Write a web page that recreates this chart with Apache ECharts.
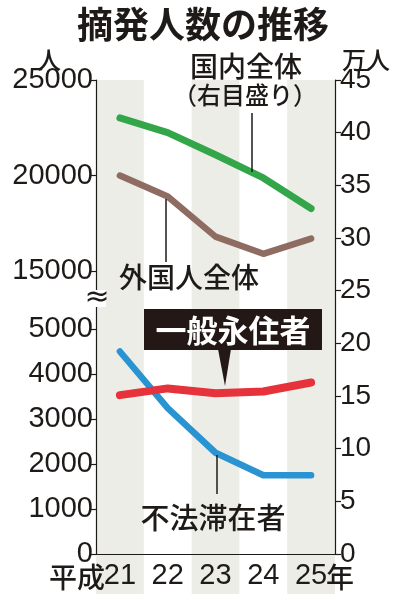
<!DOCTYPE html>
<html>
<head>
<meta charset="utf-8">
<script src="https://cdn.jsdelivr.net/npm/echarts@6/dist/echarts.min.js"></script>
<style>html,body{margin:0;padding:0;background:#fff}#c{width:400px;height:600px}</style>
</head>
<body>
<div id="c"></div>
<script>
// ---- data ----
const categories = ['21', '22', '23', '24', '25'];
const domesticTotal = [41.4, 40.0, 37.9, 35.7, 32.8];          // 万人 (right axis)
const foreignTotal = [20000, 18900, 16800, 15900, 16700];      // 人 (left, upper)
const permanentResidents = [3530, 3680, 3570, 3610, 3810];     // 人 (left, lower)
const illegalStayers = [4500, 3240, 2250, 1750, 1750];         // 人 (left, lower)
const stripeFlags = [1, 0, 1, 0, 1];
const rightTicks = [0, 45, 5];
const upperTicks = [15000, 25000, 5000];
const lowerTicks = [0, 5000, 1000];

const FONT = "'Liberation Sans','Noto Sans CJK JP',sans-serif";
const JFONT = "'Noto Sans CJK JP',sans-serif";
const INK = '#1e1a18';
const chart = echarts.init(document.getElementById('c'), null, {renderer: 'canvas'});

const gridLR = {left: 96, right: 65};
const plain = v => String(v);
const axisLabelY = {fontFamily: FONT, fontSize: 28, color: INK, formatter: plain};
const axisLabelL = {fontFamily: FONT, fontSize: 29, color: INK, formatter: plain};

const option = {
  backgroundColor: '#fff',
  animation: false,
  grid: [
    Object.assign({top: 80, bottom: 46}, gridLR),          // 0 full
    Object.assign({top: 80, height: 191}, gridLR),         // 1 upper
    Object.assign({top: 329, bottom: 46}, gridLR),         // 2 lower
    Object.assign({top: 80, bottom: 6}, gridLR)            // 3 background stripes
  ],
  xAxis: [
    {type: 'category', data: categories, gridIndex: 0, boundaryGap: true,
     axisLine: {show: true, lineStyle: {color: INK, width: 1.2}}, axisTick: {show: false},
     axisLabel: {fontFamily: FONT, fontSize: 29, color: INK, margin: 7}, splitLine: {show: false}},
    {type: 'category', data: categories, gridIndex: 1, show: false},
    {type: 'category', data: categories, gridIndex: 2, show: false},
    {type: 'category', data: categories, gridIndex: 3, show: false}
  ],
  yAxis: [
    {type: 'value', gridIndex: 0, position: 'left', min: rightTicks[0], max: rightTicks[1],
     axisLine: {show: true, lineStyle: {color: INK, width: 1.2}}, axisTick: {show: false},
     axisLabel: {show: false}, splitLine: {show: false}},
    {type: 'value', gridIndex: 0, position: 'right', min: rightTicks[0], max: rightTicks[1], interval: rightTicks[2],
     axisLine: {show: true, lineStyle: {color: INK, width: 1.2}},
     axisTick: {show: true, length: 6, lineStyle: {color: INK, width: 1.2}},
     axisLabel: Object.assign({}, axisLabelY, {margin: 5}), splitLine: {show: false}},
    {type: 'value', gridIndex: 1, position: 'left', min: upperTicks[0], max: upperTicks[1], interval: upperTicks[2],
     axisLine: {show: false},
     axisTick: {show: true, length: 6, lineStyle: {color: INK, width: 1.2}},
     axisLabel: Object.assign({}, axisLabelL, {margin: 3}), splitLine: {show: false}},
    {type: 'value', gridIndex: 2, position: 'left', min: lowerTicks[0], max: lowerTicks[1], interval: lowerTicks[2],
     axisLine: {show: false},
     axisTick: {show: true, length: 6, lineStyle: {color: INK, width: 1.2}},
     axisLabel: Object.assign({}, axisLabelL, {margin: 3}), splitLine: {show: false}},
    {type: 'value', gridIndex: 3, min: 0, max: 1, show: false}
  ],
  series: [
    {type: 'bar', xAxisIndex: 3, yAxisIndex: 4, data: stripeFlags, barWidth: '100%', barCategoryGap: 0,
     itemStyle: {color: '#ededE7'}, silent: true, z: -1},
    {type: 'line', name: '国内全体', xAxisIndex: 0, yAxisIndex: 1, data: domesticTotal, symbol: 'none',
     lineStyle: {color: '#33a64a', width: 7, cap: 'round', join: 'round'}, z: 3},
    {type: 'line', name: '外国人全体', xAxisIndex: 1, yAxisIndex: 2, data: foreignTotal, symbol: 'none',
     lineStyle: {color: '#8e6c62', width: 6.5, cap: 'round', join: 'round'}, z: 3},
    {type: 'line', name: '不法滞在者', xAxisIndex: 2, yAxisIndex: 3, data: illegalStayers, symbol: 'none',
     lineStyle: {color: '#2a94d3', width: 6.5, cap: 'round', join: 'round'}, z: 3},
    {type: 'line', name: '一般永住者', xAxisIndex: 2, yAxisIndex: 3, data: permanentResidents, symbol: 'none',
     lineStyle: {color: '#e6323b', width: 8, cap: 'round', join: 'round'}, z: 4}
  ],
  graphic: [
    {type: 'text', x: 203, y: 24, style: {text: '摘発人数の推移', font: 'bold 36px ' + JFONT, fill: INK, textAlign: 'center', textVerticalAlign: 'middle'}},
    {type: 'text', x: 49, y: 60, style: {text: '人', font: '500 24px ' + JFONT, fill: INK, textAlign: 'center', textVerticalAlign: 'middle'}},
    {type: 'text', x: 366, y: 60, style: {text: '万人', font: '500 24px ' + JFONT, fill: INK, textAlign: 'center', textVerticalAlign: 'middle'}},
    {type: 'text', x: 105, y: 577, style: {text: '平成', font: '500 28px ' + JFONT, fill: INK, textAlign: 'right', textVerticalAlign: 'middle'}},
    {type: 'text', x: 326, y: 577, style: {text: '年', font: '500 28px ' + JFONT, fill: INK, textAlign: 'left', textVerticalAlign: 'middle'}},
    {type: 'rect', shape: {x: 86, y: 290, width: 20, height: 17}, style: {fill: '#fff'}, z: 10},
    {type: 'text', x: 97, y: 298, style: {text: '≈', font: '30px DejaVu Sans', fill: INK, textAlign: 'center', textVerticalAlign: 'middle'}, z: 11},
    {type: 'text', x: 246, y: 66, style: {text: '国内全体', font: '500 28px ' + JFONT, fill: INK, textAlign: 'center', textVerticalAlign: 'middle'}, z: 10},
    {type: 'text', x: 245, y: 95, style: {text: '（右目盛り）', font: '500 24px ' + JFONT, fill: INK, textAlign: 'center', textVerticalAlign: 'middle'}, z: 10},
    {type: 'line', shape: {x1: 252, y1: 113, x2: 252, y2: 172}, style: {stroke: INK, lineWidth: 1.5}, z: 10},
    {type: 'text', x: 189, y: 277, style: {text: '外国人全体', font: '500 28px ' + JFONT, fill: INK, textAlign: 'center', textVerticalAlign: 'middle'}, z: 10},
    {type: 'line', shape: {x1: 166, y1: 199, x2: 166, y2: 262}, style: {stroke: INK, lineWidth: 1.5}, z: 10},
    {type: 'rect', shape: {x: 144, y: 309, width: 178, height: 41}, style: {fill: '#231815'}, z: 10},
    {type: 'polygon', shape: {points: [[218, 349], [231, 349], [225, 386]]}, style: {fill: '#231815'}, z: 10},
    {type: 'text', x: 233, y: 330, style: {text: '一般永住者', font: 'bold 31px ' + JFONT, fill: '#fff', textAlign: 'center', textVerticalAlign: 'middle'}, z: 11},
    {type: 'text', x: 213, y: 518, style: {text: '不法滞在者', font: '500 29px ' + JFONT, fill: INK, textAlign: 'center', textVerticalAlign: 'middle'}, z: 10},
    {type: 'line', shape: {x1: 217, y1: 455, x2: 217, y2: 494}, style: {stroke: INK, lineWidth: 1.5}, z: 10}
  ]
};
chart.setOption(option);
</script>
</body>
</html>
